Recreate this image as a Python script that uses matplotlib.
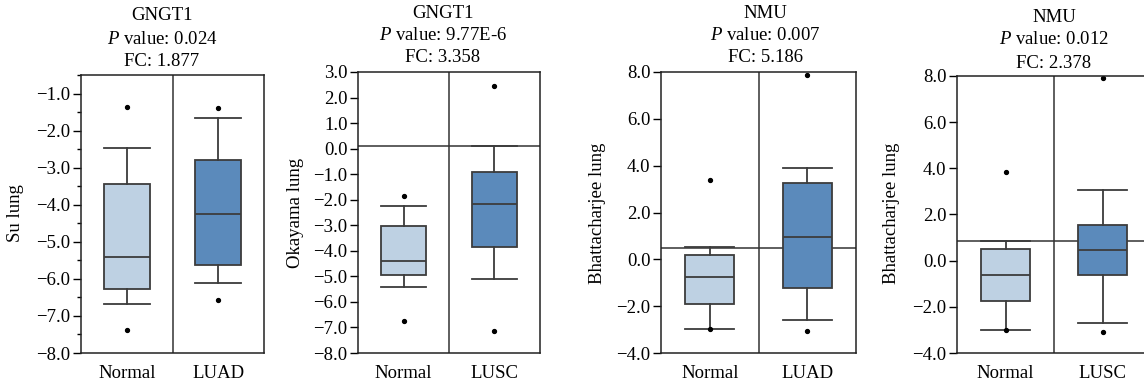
import matplotlib.pyplot as plt
from matplotlib.ticker import MultipleLocator, FuncFormatter

# Data (box stats per panel: Normal, tumour)
genes = ["GNGT1", "GNGT1", "NMU", "NMU"]
p_values = ["0.024", "9.77E-6", "0.007", "0.012"]
fold_changes = ["1.877", "3.358", "5.186", "2.378"]
datasets = ["Su lung", "Okayama lung", "Bhattacharjee lung", "Bhattacharjee lung"]
groups = [["Normal", "LUAD"], ["Normal", "LUSC"], ["Normal", "LUAD"], ["Normal", "LUSC"]]

whislo = [[-6.67, -6.11], [-5.42, -5.11], [-2.98, -2.57], [-3.00, -2.69]]
q1 = [[-6.28, -5.63], [-4.96, -3.86], [-1.90, -1.23], [-1.76, -0.64]]
med = [[-5.40, -4.26], [-4.38, -2.18], [-0.75, 0.94], [-0.62, 0.45]]
q3 = [[-3.44, -2.78], [-3.02, -0.93], [0.19, 3.28], [0.51, 1.53]]
whishi = [[-2.48, -1.67], [-2.23, 0.11], [0.51, 3.91], [0.87, 3.05]]
fliers = [
    [[-1.35, -7.39], [-1.40, -6.56]],
    [[-1.84, -6.74], [2.47, -7.13]],
    [[3.37, -2.98], [7.86, -3.07]],
    [[3.83, -3.00], [7.91, -3.09]],
]
ref_lines = [None, 0.1, 0.49, 0.87]

ylims = [(-8.0, -0.5), (-8.0, 3.0), (-4.0, 8.0), (-4.0, 8.0)]
ystep = [1.0, 1.0, 2.0, 2.0]

W, H = 1144, 385
plt.rcParams["font.family"] = ["Liberation Serif", "DejaVu Serif"]
plt.rcParams["mathtext.fontset"] = "custom"
plt.rcParams["mathtext.it"] = "Liberation Serif:italic"
plt.rcParams["mathtext.rm"] = "Liberation Serif"
fs = 13.5

fig = plt.figure(figsize=(W / 100, H / 100), dpi=100)

# axes boxes in pixels: left, top, right, bottom
boxes_px = [(81, 75, 264, 353), (358, 72, 540, 353), (661, 72, 856, 353), (957, 76, 1151, 353)]
title_px = [(162, (15, 40, 62)), (443, (13, 35, 57)), (765, (13, 35, 57)), (1054, (18, 40, 63))]
ylabel_px = [(15, 213), (295, 213), (597, 213), (892, 213)]

light = "#bed1e3"
dark = "#5b8abb"
edge = "#3c3c3c"

fmt = FuncFormatter(lambda v, pos: f"{v:.1f}".replace("-", "\u2212"))

for i in range(4):
    l, t, r, b = boxes_px[i]
    ax = fig.add_axes([l / W, 1 - b / H, (r - l) / W, (b - t) / H])
    stats = []
    for j in range(2):
        stats.append(dict(med=med[i][j], q1=q1[i][j], q3=q3[i][j],
                          whislo=whislo[i][j], whishi=whishi[i][j],
                          fliers=fliers[i][j], label=groups[i][j]))
    bp = ax.bxp(stats, positions=[0, 1], widths=0.5, capwidths=0.5,
                patch_artist=True,
                boxprops=dict(edgecolor=edge, linewidth=1.3),
                medianprops=dict(color=edge, linewidth=1.3),
                whiskerprops=dict(color=edge, linewidth=1.3),
                capprops=dict(color=edge, linewidth=1.3),
                flierprops=dict(marker="o", markersize=2.8, markerfacecolor="black",
                                markeredgecolor="black"))
    bp["boxes"][0].set_facecolor(light)
    bp["boxes"][1].set_facecolor(dark)

    ax.axvline(0.5, color="#333333", linewidth=1.1, zorder=0)
    if ref_lines[i] is not None:
        ax.axhline(ref_lines[i], color="#333333", linewidth=1.1, zorder=0)

    ax.set_xlim(-0.5, 1.5)
    ax.set_ylim(*ylims[i])
    ax.yaxis.set_major_locator(MultipleLocator(ystep[i]))
    ax.yaxis.set_major_formatter(fmt)
    if i == 0:
        ax.yaxis.set_minor_locator(MultipleLocator(0.5))
        ax.tick_params(axis="y", which="minor", length=3, width=1)
    ax.tick_params(axis="y", which="major", length=5.5, width=1, labelsize=fs, pad=2)
    ax.tick_params(axis="x", length=0, labelsize=fs, pad=9)
    for s in ax.spines.values():
        s.set_linewidth(1.1)
        s.set_color("#222222")

    cx, ys = title_px[i]
    lines = [genes[i], r"$\it{P}$ value: " + p_values[i], "FC: " + fold_changes[i]]
    for txt, yy in zip(lines, ys):
        fig.text(cx / W, 1 - yy / H, txt, ha="center", va="center", fontsize=fs)
    lx, ly = ylabel_px[i]
    fig.text(lx / W, 1 - ly / H, datasets[i], rotation=90, ha="center", va="center", fontsize=fs)

fig.savefig("out.png", dpi=100)
